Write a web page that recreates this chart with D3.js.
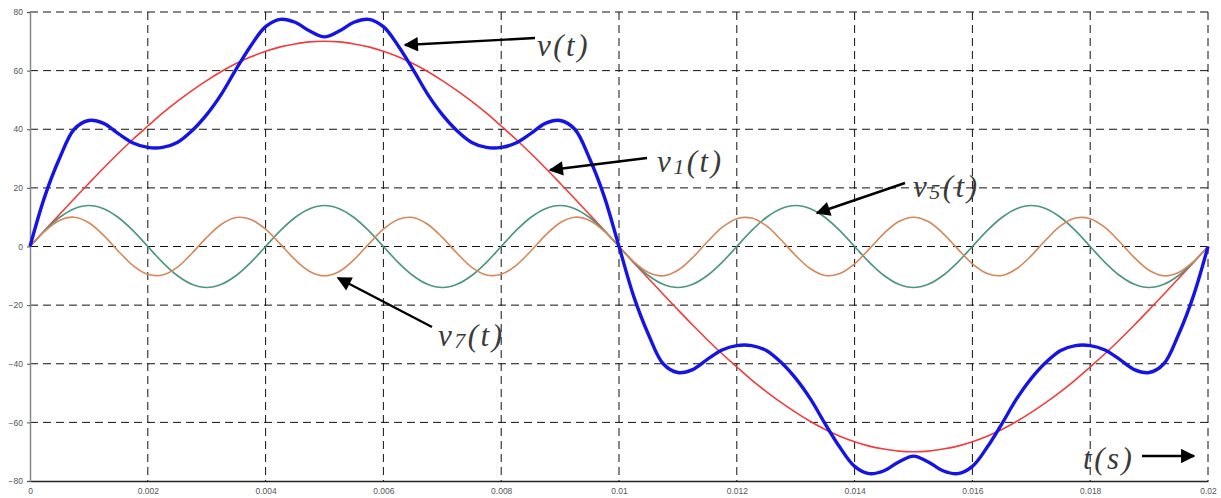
<!DOCTYPE html>
<html><head><meta charset="utf-8">
<script src="https://cdn.jsdelivr.net/npm/d3@7"></script>
<style>body{margin:0;background:#fff;} svg{display:block;}</style>
</head><body>
<svg id="chart" width="1221" height="498"></svg>
<script>
// sample times (s)
const times = [0,0.00025,0.0005,0.00075,0.001,0.00125,0.0015,0.00175,0.002,0.00225,0.0025,0.00275,0.003,0.00325,0.0035,0.00375,0.004,0.00425,0.0045,0.00475,0.005,
0.00525,0.0055,0.00575,0.006,0.00625,0.0065,0.00675,0.007,0.00725,0.0075,0.00775,0.008,0.00825,0.0085,0.00875,0.009,0.00925,0.0095,0.00975,0.01,
0.01025,0.0105,0.01075,0.011,0.01125,0.0115,0.01175,0.012,0.01225,0.0125,0.01275,0.013,0.01325,0.0135,0.01375,0.014,0.01425,0.0145,0.01475,0.015,
0.01525,0.0155,0.01575,0.016,0.01625,0.0165,0.01675,0.017,0.01725,0.0175,0.01775,0.018,0.01825,0.0185,0.01875,0.019,0.01925,0.0195,0.01975,0.02];

const vTotal = [0,17,30,40,43,42,38.5,35.3,33.8,33.8,35.5,39.5,45,52,60.5,68.5,75,77.5,76.5,73.5,71.5,
73.5,76.5,77.5,75,68.5,60.5,52,45,39.5,35.5,33.8,33.8,35.3,38.5,42,43,40,30,17,0,
-17,-30,-40,-43,-42,-38.5,-35.3,-33.8,-33.8,-35.5,-39.5,-45,-52,-60.5,-68.5,-75,-77.5,-76.5,-73.5,-71.5,
-73.5,-76.5,-77.5,-75,-68.5,-60.5,-52,-45,-39.5,-35.5,-33.8,-33.8,-35.3,-38.5,-42,-43,-40,-30,-17,0];

const v1 = [0,5.5,10.9,16.3,21.6,26.8,31.8,36.6,41.1,45.5,49.5,53.2,56.6,59.7,62.4,64.7,66.6,68.1,69.1,69.8,70,
69.8,69.1,68.1,66.6,64.7,62.4,59.7,56.6,53.2,49.5,45.5,41.1,36.6,31.8,26.8,21.6,16.3,10.9,5.5,0,
-5.5,-10.9,-16.3,-21.6,-26.8,-31.8,-36.6,-41.1,-45.5,-49.5,-53.2,-56.6,-59.7,-62.4,-64.7,-66.6,-68.1,-69.1,-69.8,-70,
-69.8,-69.1,-68.1,-66.6,-64.7,-62.4,-59.7,-56.6,-53.2,-49.5,-45.5,-41.1,-36.6,-31.8,-26.8,-21.6,-16.3,-10.9,-5.5,0];

const v5 = [0,5.4,9.9,12.9,14,12.9,9.9,5.4,0,-5.4,-9.9,-12.9,-14,-12.9,-9.9,-5.4,
0,5.4,9.9,12.9,14,12.9,9.9,5.4,0,-5.4,-9.9,-12.9,-14,-12.9,-9.9,-5.4,
0,5.4,9.9,12.9,14,12.9,9.9,5.4,0,-5.4,-9.9,-12.9,-14,-12.9,-9.9,-5.4,
0,5.4,9.9,12.9,14,12.9,9.9,5.4,0,-5.4,-9.9,-12.9,-14,-12.9,-9.9,-5.4,
0,5.4,9.9,12.9,14,12.9,9.9,5.4,0,-5.4,-9.9,-12.9,-14,-12.9,-9.9,-5.4,0];

const v7 = [0,5.2,8.9,10,8.1,3.8,-1.6,-6.5,-9.5,-9.7,-7.1,-2.3,3.1,7.6,9.9,9.2,5.9,0.8,-4.5,-8.5,-10,
-8.5,-4.5,0.8,5.9,9.2,9.9,7.6,3.1,-2.3,-7.1,-9.7,-9.5,-6.5,-1.6,3.8,8.1,10,8.9,5.2,0,
-5.2,-8.9,-10,-8.1,-3.8,1.6,6.5,9.5,9.7,7.1,2.3,-3.1,-7.6,-9.9,-9.2,-5.9,-0.8,4.5,8.5,10,
8.5,4.5,-0.8,-5.9,-9.2,-9.9,-7.6,-3.1,2.3,7.1,9.7,9.5,6.5,1.6,-3.8,-8.1,-10,-8.9,-5.2,0];

const xTicks = [0,0.002,0.004,0.006,0.008,0.01,0.012,0.014,0.016,0.018,0.02];
const yTicks = [-80,-60,-40,-20,0,20,40,60,80];

const svg = d3.select("#chart");
const L = 30, R = 1208, T = 12, B = 481;
const x = d3.scaleLinear().domain([0, 0.02]).range([L, R]);
const y = d3.scaleLinear().domain([-80, 80]).range([B, T]);

// grid
const g = svg.append("g");
g.selectAll("line.vg").data(xTicks.filter(d => d > 0)).join("line")
  .attr("x1", d => x(d)).attr("x2", d => x(d)).attr("y1", T).attr("y2", B)
  .attr("stroke", "#111").attr("stroke-width", 1).attr("stroke-dasharray", "8,5");
g.selectAll("line.hg").data(yTicks.filter(d => d > -80)).join("line")
  .attr("x1", L).attr("x2", R).attr("y1", d => y(d)).attr("y2", d => y(d))
  .attr("stroke", "#111").attr("stroke-width", 1).attr("stroke-dasharray", "8,5");

// axes
const xAxis = d3.axisBottom(x).tickValues(xTicks).tickSize(0).tickPadding(7)
  .tickFormat(d => d === 0 ? "0" : String(+d.toFixed(3)));
const gx = svg.append("g").attr("transform", `translate(0,${B})`).call(xAxis);
gx.select(".domain").attr("stroke", "#222").attr("stroke-width", 1.5);
gx.selectAll("text").attr("font-family", "Liberation Sans, Arial").attr("font-size", 8.5).attr("fill", "#555");

const yAxis = d3.axisLeft(y).tickValues(yTicks).tickSize(3).tickPadding(4);
const gy = svg.append("g").attr("transform", `translate(${L},0)`).call(yAxis);
gy.select(".domain").attr("stroke", "#888").attr("stroke-width", 1.5);
gy.selectAll(".tick line").attr("stroke", "#555");
gy.selectAll("text").attr("font-family", "Liberation Sans, Arial").attr("font-size", 8.5).attr("fill", "#555");

// series
const line = vals => d3.line().x((d, i) => x(times[i])).y(d => y(d)).curve(d3.curveCatmullRom.alpha(0.5))(vals);
svg.append("path").attr("d", line(v1)).attr("fill", "none").attr("stroke", "#f23c3c").attr("stroke-width", 1.6);
svg.append("path").attr("d", line(v5)).attr("fill", "none").attr("stroke", "#4b9680").attr("stroke-width", 1.6);
svg.append("path").attr("d", line(v7)).attr("fill", "none").attr("stroke", "#d6885a").attr("stroke-width", 1.6);
svg.append("path").attr("d", line(vTotal)).attr("fill", "none").attr("stroke", "#1414e6").attr("stroke-width", 3.4);

// arrows
const defs = svg.append("defs");
defs.append("marker").attr("id", "ah").attr("viewBox", "0 0 10 10").attr("refX", 9).attr("refY", 5)
  .attr("markerWidth", 7).attr("markerHeight", 6).attr("markerUnits", "strokeWidth").attr("orient", "auto")
  .append("path").attr("d", "M0,0 L10,5 L0,10 Z").attr("fill", "#000");

const arrows = [
  [535, 38, 405, 45],
  [647, 158, 550, 170],
  [905, 183, 817, 213],
  [432, 327, 338, 278],
  [1142, 456, 1194, 456]
];
svg.selectAll("line.arr").data(arrows).join("line")
  .attr("x1", d => d[0]).attr("y1", d => d[1]).attr("x2", d => d[2]).attr("y2", d => d[3])
  .attr("stroke", "#000").attr("stroke-width", 2.4).attr("marker-end", "url(#ah)");

// labels
const labels = [
  {x: 537, y: 56, main: "v", sub: "", rest: "(t)"},
  {x: 657, y: 172, main: "v", sub: "1", rest: "(t)"},
  {x: 913, y: 197, main: "v", sub: "5", rest: "(t)"},
  {x: 438, y: 346, main: "v", sub: "7", rest: "(t)"},
  {x: 1083, y: 469, main: "t", sub: "", rest: "(s)"}
];
labels.forEach(l => {
  const t = svg.append("text").attr("x", l.x).attr("y", l.y)
    .attr("font-family", "Liberation Serif, Times New Roman, serif").attr("font-style", "italic")
    .attr("font-size", 31).attr("letter-spacing", 2.5).attr("fill", "#3a3a3a");
  t.append("tspan").text(l.main);
  if (l.sub) t.append("tspan").attr("font-size", 22).attr("dy", 2).text(l.sub);
  t.append("tspan").attr("dy", l.sub ? -2 : 0).text(l.rest);
});
</script>
</body></html>
